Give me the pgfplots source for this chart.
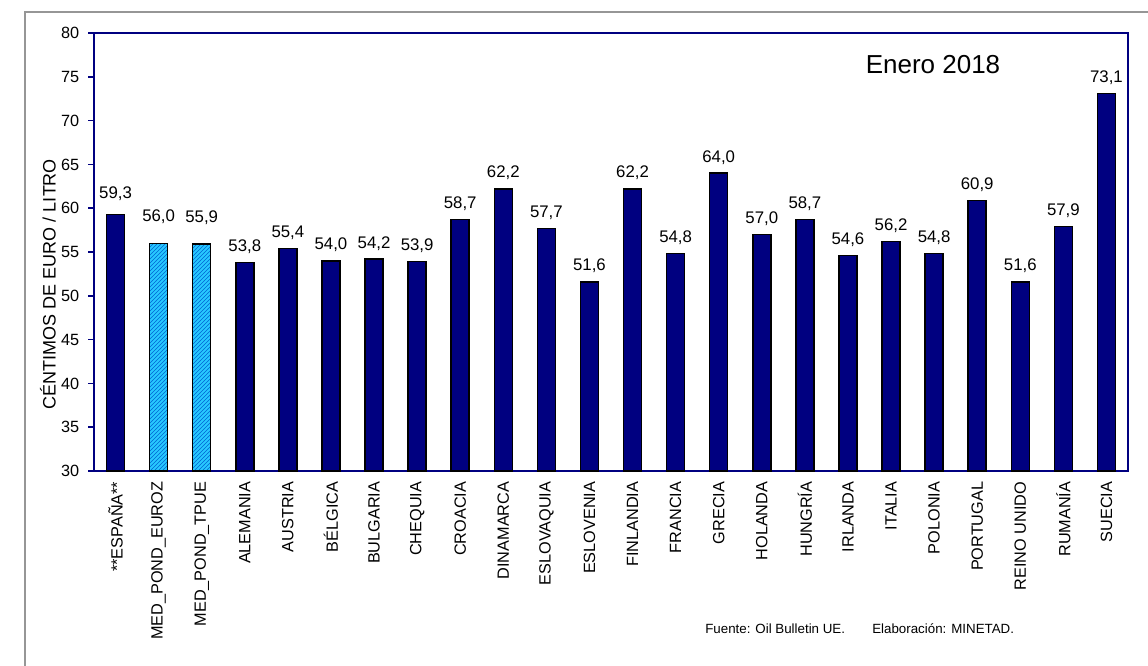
\documentclass[border=0pt]{standalone}
\usepackage{pgfplots}
\pgfplotsset{compat=1.18}
\usepackage{fontspec}
\setmainfont{Liberation Sans}
\usetikzlibrary{patterns}
\definecolor{navy}{RGB}{0,0,128}
\definecolor{lblue}{RGB}{40,200,255}
\definecolor{hatchc}{RGB}{0,100,210}
\begin{document}
\begin{tikzpicture}
\path[use as bounding box] (0pt,0pt) rectangle (861pt,-498.75pt);
\draw[color={rgb,255:red,150;green,150;blue,150}, line width=1.5pt] (18.75pt,-500pt) -- (18.75pt,-9pt) -- (862pt,-9pt);
\begin{axis}[
  at={(70.5pt,-353.25pt)}, anchor=south west,
  scale only axis, width=775.5pt, height=328.5pt,
  ymin=30, ymax=80, ytick={30,35,...,80},
  xmin=-0.5, xmax=23.5, xtick={0,...,23},
  xticklabels={**ESPAÑA**,MED\_POND\_EUROZ,MED\_POND\_TPUE,ALEMANIA,AUSTRIA,BÉLGICA,BULGARIA,CHEQUIA,CROACIA,DINAMARCA,ESLOVAQUIA,ESLOVENIA,FINLANDIA,FRANCIA,GRECIA,HOLANDA,HUNGRÍA,IRLANDA,ITALIA,POLONIA,PORTUGAL,REINO UNIDO,RUMANÍA,SUECIA},
  xticklabel style={rotate=90, anchor=east, font=\fontsize{12.2}{14}\selectfont, text=black},
  yticklabel style={font=\fontsize{12.2}{14}\selectfont, text=black, xshift=-3pt},
  /pgf/number format/assume math mode=true,
  axis line style={navy, line width=1.2pt},
  ytick style={navy, line width=1.1pt},
  xtick style={draw=none},
  tick align=outside, major tick length=4.5pt,
  ytick pos=left, xtick pos=bottom,
  ybar, bar width=13.5pt,
  nodes near coords={\pgfmathprintnumber[fixed,fixed zerofill,precision=1,use comma,assume math mode=true]{\pgfplotspointmeta}},
  every node near coord/.append style={anchor=base, font=\fontsize{12.6}{14}\selectfont, text=black},
]
\addplot[bar shift=0pt, fill=navy, draw=black, line width=1.1pt,
  every node near coord/.append style={yshift=8.25pt}] coordinates {
(3,53.8) (4,55.4) (5,54.0) (6,54.2) (7,53.9) (8,58.7) (9,62.2) (10,57.7) (11,51.6) (12,62.2) (13,54.8) (14,64.0) (15,57.0) (16,58.7) (17,54.6) (18,56.2) (19,54.8) (20,60.9) (21,51.6) (22,57.9) (23,73.1)};
\addplot[bar shift=0pt, fill=navy, draw=black, line width=1.1pt,
  every node near coord/.append style={yshift=12pt}] coordinates {
(0,59.3)};
\addplot[bar shift=0pt, fill=lblue, draw=black, line width=1.1pt, postaction={pattern=north east lines, pattern color=hatchc},
  every node near coord/.append style={yshift=16pt}] coordinates {
(1,56.0) (2,55.9)};
\end{axis}
\node[anchor=base, font=\fontsize{19.5}{22}\selectfont] at (699.75pt,-54.75pt) {Enero 2018};
\node[anchor=base west, font=\fontsize{10}{12}\selectfont, inner sep=0pt] at (528.75pt,-474.75pt) {Fuente: Oil Bulletin UE.};
\node[anchor=base west, font=\fontsize{10}{12}\selectfont, inner sep=0pt] at (654pt,-474.75pt) {Elaboración: MINETAD.};
\node[rotate=90, font=\fontsize{13.5}{16}\selectfont] at (36pt,-213pt) {CÉNTIMOS DE EURO / LITRO};
\end{tikzpicture}
\end{document}
